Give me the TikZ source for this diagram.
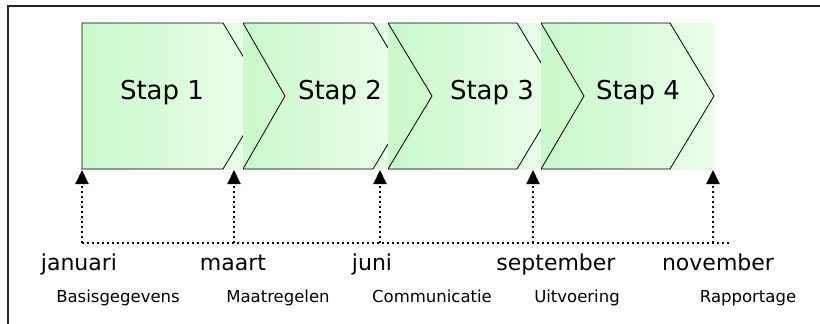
\documentclass[tikz,border=0pt]{standalone}
\usepackage{fontspec}
\setmainfont{DejaVu Sans}
\usetikzlibrary{arrows.meta}
\definecolor{gl}{RGB}{202,249,202}
\definecolor{gr}{RGB}{234,253,234}
\tikzset{
  frame/.style={line width=2pt, black!85},
  chev/.style={draw=black, line width=0.8pt, line join=miter},
  dotln/.style={line width=2pt, dash pattern=on 2pt off 3pt},
  dotarrow/.style={dotln, -{Triangle[width=13pt,length=14pt]}},
  staplbl/.style={font=\fontsize{26}{30}\selectfont},
  monthlbl/.style={font=\fontsize{22}{26}\selectfont, anchor=base},
  sublbl/.style={font=\fontsize{16.5}{20}\selectfont, anchor=base},
}
\begin{document}
\begin{tikzpicture}[x=1pt,y=-1pt]
\useasboundingbox (0,0) rectangle (820,324);
% frame (only top and left visible)
\coordinate (fa) at (8,6);
\coordinate (fb) at (821,6);
\coordinate (fc) at (8,325);
\draw[frame] (fb) -- (fa) -- (fc);
% Stap 1
\begin{scope}
  \clip (80,20) rectangle (243,172);
  \shade[left color=gl, right color=gr] (82,23) rectangle (243,169);
  \draw[chev] (82,23) -- (223,23) -- (267,96) -- (223,169) -- (82,169) -- cycle;
\end{scope}
% Stap 2
\begin{scope}
  \clip (243,20) rectangle (388,172);
  \shade[left color=gl, right color=gr] (243,23) rectangle (388,169);
  \draw[chev] (243,23) -- (373,23) -- (417,96) -- (373,169) -- (243,169) -- (285,96) -- cycle;
\end{scope}
% Stap 3
\begin{scope}
  \clip (388,20) rectangle (541,172);
  \shade[left color=gl, right color=gr] (388,23) rectangle (541,169);
  \draw[chev] (388,23) -- (517,23) -- (561,96) -- (517,169) -- (388,169) -- (432,96) -- cycle;
\end{scope}
% Stap 4
\begin{scope}
  \clip (541,20) rectangle (716,172);
  \shade[left color=gl, right color=gr] (541,23) rectangle (714,169);
  \draw[chev] (541,23) -- (670,23) -- (714,96) -- (670,169) -- (541,169) -- (584,96) -- cycle;
\end{scope}
% step labels
\node[staplbl] (s1) at (162,93) {Stap 1};
\node[staplbl] (s2) at (340,93) {Stap 2};
\node[staplbl] (s3) at (492,93) {Stap 3};
\node[staplbl] (s4) at (638,93) {Stap 4};
% timeline
\coordinate (tl) at (82,243);
\coordinate (tr) at (729,243);
\draw[dotln] (tl) -- (tr);
\foreach \i/\x in {1/82,2/234,3/380,4/533,5/713}{
  \coordinate (b\i) at (\x,243);
  \coordinate (h\i) at (\x,170);
  \draw[dotarrow] (b\i) -- (h\i);
}
% months
\node[monthlbl] (m1) at (79,270) {januari};
\node[monthlbl] (m2) at (233,270) {maart};
\node[monthlbl] (m3) at (372,270) {juni};
\node[monthlbl] (m4) at (556,270) {september};
\node[monthlbl] (m5) at (718,270) {november};
% sub labels
\node[sublbl] (p1) at (118,302) {Basisgegevens};
\node[sublbl] (p2) at (278,302) {Maatregelen};
\node[sublbl] (p3) at (432,302) {Communicatie};
\node[sublbl] (p4) at (577,302) {Uitvoering};
\node[sublbl] (p5) at (748,302) {Rapportage};
\end{tikzpicture}
\end{document}
